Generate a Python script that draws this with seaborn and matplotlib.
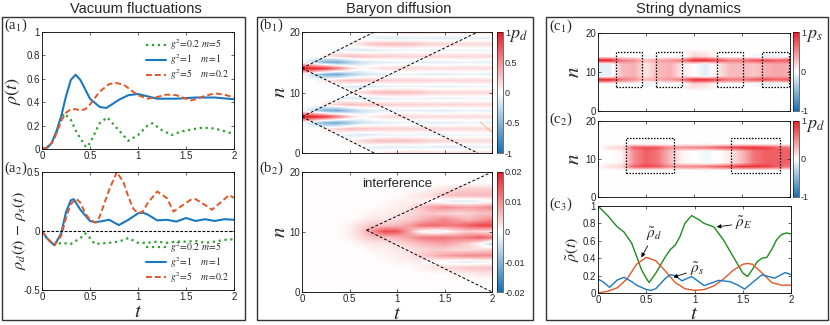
import matplotlib
matplotlib.use("Agg")
import matplotlib.pyplot as plt
import numpy as np
import seaborn as sns
from matplotlib.colors import LinearSegmentedColormap
from matplotlib.patches import Rectangle

# Style: seaborn ticks, then MATLAB-like boxed axes
sns.set_theme(style="ticks")
plt.rcParams["font.family"] = ["Liberation Sans", "DejaVu Sans"]
plt.rcParams["mathtext.fontset"] = "stix"
plt.rcParams["xtick.direction"] = "in"
plt.rcParams["ytick.direction"] = "in"
plt.rcParams["xtick.top"] = True
plt.rcParams["ytick.right"] = True
plt.rcParams["xtick.major.size"] = 2.5
plt.rcParams["ytick.major.size"] = 2.5
plt.rcParams["xtick.major.width"] = 0.5
plt.rcParams["ytick.major.width"] = 0.5
plt.rcParams["axes.linewidth"] = 0.6
plt.rcParams["axes.edgecolor"] = "black"
plt.rcParams["xtick.labelsize"] = 7
plt.rcParams["ytick.labelsize"] = 7

# ---------------- data: vacuum fluctuations (a1) ----------------
a1_t_green = [0, 0.05, 0.1, 0.15, 0.2, 0.23, 0.3, 0.35, 0.4, 0.46, 0.5, 0.6, 0.68, 0.8, 0.9,
              1.0, 1.1, 1.15, 1.25, 1.35, 1.45, 1.55, 1.65, 1.75, 1.85, 1.95, 2.0]
a1_green = [0, 0.01, 0.05, 0.13, 0.27, 0.305, 0.25, 0.16, 0.09, 0.015, 0.05, 0.22, 0.27, 0.16, 0.07,
            0.12, 0.2, 0.22, 0.16, 0.12, 0.15, 0.165, 0.18, 0.18, 0.165, 0.14, 0.135]
a1_t_blue = [0, 0.05, 0.1, 0.15, 0.2, 0.25, 0.3, 0.35, 0.4, 0.5, 0.6, 0.67, 0.8, 0.9, 1.0,
             1.1, 1.2, 1.4, 1.6, 1.8, 2.0]
a1_blue = [0, 0.01, 0.05, 0.15, 0.28, 0.45, 0.59, 0.635, 0.59, 0.43, 0.36, 0.35, 0.42, 0.46, 0.47,
           0.45, 0.43, 0.43, 0.44, 0.44, 0.425]
a1_t_orange = [0, 0.05, 0.1, 0.15, 0.2, 0.25, 0.3, 0.35, 0.4, 0.45, 0.5, 0.6, 0.7, 0.77, 0.85, 0.9,
               1.0, 1.1, 1.2, 1.3, 1.4, 1.5, 1.55, 1.6, 1.7, 1.8, 1.9, 2.0]
a1_orange = [0, 0.01, 0.05, 0.13, 0.24, 0.31, 0.34, 0.34, 0.33, 0.34, 0.38, 0.49, 0.555, 0.565, 0.55, 0.52,
             0.46, 0.43, 0.445, 0.465, 0.46, 0.43, 0.415, 0.425, 0.455, 0.475, 0.465, 0.44]

# ---------------- data: rho_d - rho_s (a2) ----------------
a2_t_green = [0, 0.05, 0.1, 0.13, 0.2, 0.3, 0.4, 0.45, 0.5, 0.55, 0.7, 0.8, 0.9, 1.0, 1.1, 1.2,
              1.3, 1.4, 1.5, 1.6, 1.7, 1.8, 1.9, 2.0]
a2_green = [0, -0.06, -0.1, -0.12, -0.1, -0.11, -0.06, -0.02, -0.06, -0.11, -0.1, -0.09, -0.06, -0.1,
            -0.1, -0.09, -0.1, -0.09, -0.09, -0.085, -0.1, -0.09, -0.075, -0.07]
a2_t_blue = [0, 0.05, 0.1, 0.13, 0.2, 0.25, 0.3, 0.33, 0.4, 0.5, 0.55, 0.6, 0.7, 0.8, 0.9, 1.0,
             1.05, 1.1, 1.2, 1.3, 1.4, 1.5, 1.6, 1.7, 1.8, 1.9, 2.0]
a2_blue = [0, -0.06, -0.1, -0.12, -0.02, 0.16, 0.26, 0.27, 0.18, 0.085, 0.075, 0.08, 0.095, 0.05, 0.095,
           0.15, 0.155, 0.14, 0.09, 0.095, 0.08, 0.11, 0.085, 0.1, 0.085, 0.1, 0.095]
a2_t_orange = [0, 0.05, 0.1, 0.13, 0.2, 0.25, 0.3, 0.36, 0.4, 0.45, 0.5, 0.56, 0.6, 0.7, 0.78, 0.85,
               0.9, 0.95, 1.0, 1.05, 1.1, 1.2, 1.3, 1.37, 1.45, 1.55, 1.6, 1.7, 1.77, 1.85, 1.95, 2.0]
a2_orange = [0, -0.06, -0.1, -0.12, -0.04, 0.11, 0.23, 0.27, 0.24, 0.15, 0.095, 0.07, 0.12, 0.35, 0.5, 0.41,
             0.29, 0.19, 0.15, 0.165, 0.235, 0.335, 0.28, 0.165, 0.21, 0.265, 0.27, 0.22, 0.18, 0.235, 0.305, 0.28]

legend_labels = [r"$g^2\!=\!0.2\ m\!=\!5$", r"$g^2\!=\!1\ \ \ \ m\!=\!1$", r"$g^2\!=\!5\ \ \ \ m\!=\!0.2$"]

# ---------------- data: heatmaps, sampled at t = 0, 0.125, ..., 2 ----------------
t_cols = np.linspace(0, 2, 17)
n_rows = np.arange(21)

# baryon diffusion p_d, rows grouped by distance from the nearest source (n=6, n=14)
pd_d0 = [1.0, 1.0, 0.9, 0.6, 0.25, 0.02, 0.1, 0.16, 0.18, 0.18, 0.17, 0.16, 0.16, 0.16, 0.16, 0.16, 0.16]
pd_d1 = [0.0, -0.25, -0.55, -0.6, -0.4, -0.22, -0.15, -0.12, -0.1, -0.08, -0.1, -0.12, -0.12, -0.1, -0.08, -0.1, -0.12]
pd_d2 = [0.0, 0.0, 0.08, 0.22, 0.3, 0.28, 0.24, 0.22, 0.2, 0.19, 0.19, 0.19, 0.18, 0.18, 0.18, 0.17, 0.17]
pd_d3 = [0, 0, 0, -0.05, -0.12, -0.16, -0.14, -0.1, -0.08, -0.07, -0.08, -0.09, -0.09, -0.08, -0.07, -0.07, -0.07]
pd_d4 = [0, 0, 0, 0, 0.04, 0.16, 0.27, 0.3, 0.3, 0.28, 0.24, 0.2, 0.18, 0.17, 0.17, 0.17, 0.17]
pd_d5 = [0, 0, 0, 0, 0, -0.04, -0.1, -0.14, -0.14, -0.12, -0.1, -0.12, -0.14, -0.12, -0.1, -0.1, -0.1]
pd_d6 = [0, 0, 0, 0, 0, 0, 0.04, 0.12, 0.17, 0.18, 0.17, 0.16, 0.15, 0.15, 0.15, 0.15, 0.15]
b1_row_dist = [6, 5, 4, 3, 2, 1, 0, 1, 2, 3, 4, 3, 2, 1, 0, 1, 2, 3, 4, 5, 6]
b1_cone_t = [[0, 0.76], [0, 1.85], [0, 1.85], [0, 0.76]]
b1_cone_n = [[14, 20], [14, 0], [6, 20], [6, 0]]
b1_stray_t = [1.88, 2.05]
b1_stray_n = [5.1, 2.7]

# interference, only rows that differ from the faint background
b2_bg = 0.0002
b2_rows = {
    3:  [0, 0, 0, 0, 0, 0, 0, 0, 0, 0, 0, 0, 0, 0.001, 0.001, 0.002, 0.002],
    4:  [0, 0, 0, 0, 0, 0, 0, 0, 0, 0, 0.001, 0.002, 0.003, 0.004, 0.005, 0.005, 0.005],
    5:  [0, 0, 0, 0, 0, 0, 0, 0, 0.001, 0.001, 0.001, 0, -0.001, -0.002, -0.003, -0.002, -0.002],
    6:  [0, 0, 0, 0, 0, 0, 0, 0.001, 0.001, 0.002, 0.004, 0.006, 0.008, 0.009, 0.01, 0.01, 0.01],
    7:  [0, 0, 0, 0, 0, 0, 0.001, 0.001, 0.002, 0.002, 0.003, 0.004, 0.004, 0.003, 0.003, 0.003, 0.004],
    8:  [0, 0, 0, 0, 0, 0.001, 0.002, 0.002, 0.003, 0.004, 0.006, 0.007, 0.008, 0.006, 0.004, 0.0, -0.006],
    9:  [0, 0, 0, 0, 0.001, 0.003, 0.005, 0.005, 0.006, 0.008, 0.011, 0.012, 0.012, 0.011, 0.012, 0.014, 0.012],
    10: [0, 0, 0, 0, 0.001, 0.004, 0.01, 0.016, 0.015, 0.008, 0.0, -0.002, -0.001, 0.002, 0.004, 0.003, 0.002],
    11: [0, 0, 0, 0, 0.001, 0.003, 0.005, 0.005, 0.006, 0.008, 0.012, 0.013, 0.012, 0.012, 0.014, 0.016, 0.016],
    12: [0, 0, 0, 0, 0, 0.001, 0.002, 0.002, 0.003, 0.004, 0.006, 0.008, 0.01, 0.008, 0.006, 0.008, 0.01],
    13: [0, 0, 0, 0, 0, 0, 0.001, 0.001, 0.002, 0.003, 0.004, 0.005, 0.004, 0.003, 0.004, 0.005, 0.005],
    14: [0, 0, 0, 0, 0, 0, 0, 0.001, 0.001, 0.002, 0.005, 0.008, 0.01, 0.009, 0.008, 0.009, 0.01],
    15: [0, 0, 0, 0, 0, 0, 0, 0, 0.001, 0.001, 0.001, 0, -0.002, -0.003, -0.003, -0.002, -0.001],
    16: [0, 0, 0, 0, 0, 0, 0, 0, 0, 0.001, 0.002, 0.003, 0.005, 0.006, 0.006, 0.006, 0.006],
    17: [0, 0, 0, 0, 0, 0, 0, 0, 0, 0, 0, 0.001, 0.002, 0.003, 0.004, 0.004, 0.004],
}
b2_cone_t = [[0.68, 2.0], [0.68, 2.0]]
b2_cone_n = [[10.3, 20], [10.3, 0]]

# string dynamics p_s (c1) and p_d (c2)
ps_edge = [1.0, 1.0, 0.6, 0.5, 0.3, 0.4, 0.45, 0.6, 0.95, 0.95, 0.8, 0.6, 0.6, 0.75, 0.8, 0.7, 0.75]
ps_mid = [-0.1, -0.1, 0.3, 0.35, 0.1, 0.3, 0.35, 0.1, 0.0, -0.12, 0.1, 0.3, 0.3, 0.25, 0.35, 0.4, 0.35]
ps_out1 = [0, 0, 0, 0, -0.1, -0.05, 0, -0.1, 0.2, 0.15, 0, 0, 0, -0.05, -0.15, -0.1, 0]
ps_out2 = [0, 0, 0, 0, 0, 0, 0, 0.05, 0.12, 0.08, 0, 0, 0, 0, 0, 0, 0]
c1_rows = {6: ps_out2, 7: ps_out1, 8: ps_edge, 9: ps_mid, 10: ps_mid, 11: ps_mid, 12: ps_mid,
           13: ps_edge, 14: ps_out1, 15: ps_out2}
c1_box_t = [(0.19, 0.46), (0.6, 0.87), (1.24, 1.51), (1.71, 1.99)]
c1_box_n = (6.1, 15.1)

pdc_edge = [0.0, 0.15, 0.2, 0.7, 0.8, 0.75, 0.5, 0.5, 0.55, 0.6, 0.7, 0.8, 0.9, 0.9, 0.85, 0.7, 0.6]
pdc_mid = [0, 0, 0.05, 0.5, 0.7, 0.6, 0.3, 0.05, 0.0, -0.05, 0.0, 0.1, 0.3, 0.6, 0.7, 0.7, 0.7]
pdc_out = [0, 0, 0, 0, -0.05, -0.05, 0, 0, 0, -0.05, 0, 0, 0, 0, 0, 0, 0]
c2_rows = {7: pdc_out, 8: pdc_edge, 9: pdc_mid, 10: pdc_mid, 11: pdc_mid, 12: pdc_mid,
           13: pdc_edge, 14: pdc_out}
c2_box_t = [(0.29, 0.79), (1.39, 1.9)]
c2_box_n = (6.3, 15.5)

# ---------------- data: string dynamics populations (c3) ----------------
c3_t_E = [0, 0.1, 0.2, 0.27, 0.35, 0.4, 0.45, 0.5, 0.53, 0.6, 0.7, 0.75, 0.8, 0.85, 0.9, 0.97,
          1.05, 1.1, 1.2, 1.3, 1.4, 1.5, 1.55, 1.6, 1.65, 1.7, 1.75, 1.8, 1.85, 1.9, 1.95, 2.0]
c3_E = [1.0, 0.89, 0.76, 0.70, 0.57, 0.42, 0.27, 0.17, 0.12, 0.23, 0.42, 0.5, 0.55, 0.65, 0.8, 0.89,
        0.84, 0.8, 0.76, 0.61, 0.42, 0.23, 0.19, 0.27, 0.36, 0.4, 0.41, 0.5, 0.61, 0.67, 0.69, 0.68]
c3_t_d = [0, 0.1, 0.2, 0.3, 0.4, 0.5, 0.6, 0.7, 0.8, 0.9, 1.0, 1.1, 1.2, 1.3, 1.4, 1.5, 1.55,
          1.6, 1.7, 1.8, 1.9, 2.0]
c3_d = [0, 0.02, 0.06, 0.16, 0.33, 0.41, 0.37, 0.25, 0.12, 0.05, 0.03, 0.04, 0.08, 0.16, 0.26, 0.33, 0.34,
        0.33, 0.23, 0.12, 0.09, 0.09]
c3_t_s = [0, 0.05, 0.12, 0.2, 0.27, 0.35, 0.4, 0.5, 0.55, 0.6, 0.7, 0.75, 0.8, 0.87, 0.97, 1.1,
          1.25, 1.37, 1.45, 1.52, 1.6, 1.7, 1.83, 1.94, 2.0]
c3_s = [0.16, 0.13, 0.065, 0.15, 0.18, 0.13, 0.09, 0.04, 0.03, 0.05, 0.17, 0.21, 0.2, 0.14, 0.19, 0.085,
        0.145, 0.13, 0.09, 0.045, 0.12, 0.21, 0.17, 0.235, 0.21]

# ---------------- colours ----------------
c_green = "#2ea02e"
c_blue = "#1a78c2"
c_orange = "#e0582a"
c_green_dark = "#1e8c1e"
rwb = LinearSegmentedColormap.from_list("rwb", ["#1170b8", "#ffffff", "#ea1c24"])

W, H = 830, 325


def rect(x0, y0, x1, y1):
    return [x0 / W, 1 - y1 / H, (x1 - x0) / W, (y1 - y0) / H]


fig = plt.figure(figsize=(8.3, 3.25), dpi=100)

# panel frames and titles
for (x0, x1), xc, title in zip([(2, 245), (257, 533), (546, 828)], [136, 399, 688],
                               ["Vacuum fluctuations", "Baryon diffusion", "String dynamics"]):
    fig.add_artist(Rectangle((x0 / W, 1 - 320 / H), (x1 - x0) / W, 303 / H, transform=fig.transFigure,
                             fill=False, lw=1.0, ec="#333333"))
    fig.text(xc / W, 1 - 9 / H, title, ha="center", va="center", fontsize=10.5)


def panel_label(x, y, letter, idx):
    fig.text(x / W, 1 - y / H, "(" + letter + r"$_{" + idx + r"}$)", family="Liberation Serif",
             fontsize=10.5, ha="left", va="center")


def draw_lines(ax, series):
    for (t, y, col, ls, lw, lab) in series:
        sns.lineplot(x=t, y=y, ax=ax, color=col, linestyle=ls, lw=lw, label=lab)


def legend(ax, loc):
    ax.legend(loc=loc, frameon=False, fontsize=7, handlelength=2.0, handletextpad=0.4,
              labelspacing=0.0, borderaxespad=0.15)


# ---- a1 ----
ax = fig.add_axes(rect(42, 32, 234, 149))
draw_lines(ax, [(a1_t_green, a1_green, c_green, ":", 1.6, legend_labels[0]),
                (a1_t_blue, a1_blue, c_blue, "-", 1.5, legend_labels[1]),
                (a1_t_orange, a1_orange, c_orange, (0, (3, 1.6)), 1.4, legend_labels[2])])
ax.set_xlim(0, 2)
ax.set_ylim(0, 1)
ax.set_xticks([0, 0.5, 1, 1.5, 2])
ax.set_xticklabels(["0", "0.5", "1", "1.5", "2"])
ax.set_yticks([0, 0.2, 0.4, 0.6, 0.8, 1])
ax.set_yticklabels(["0", "0.2", "0.4", "0.6", "0.8", "1"])
ax.tick_params(pad=1.5)
ax.set_xlabel("")
ax.set_ylabel(r"$\rho(t)$", fontsize=13, labelpad=0)
ax.yaxis.set_label_coords(-0.10, 0.5)
legend(ax, "upper right")
panel_label(4, 25, "a", "1")

# ---- a2 ----
ax = fig.add_axes(rect(42, 172, 234, 290))
draw_lines(ax, [(a2_t_green, a2_green, c_green, ":", 1.6, legend_labels[0]),
                (a2_t_blue, a2_blue, c_blue, "-", 1.5, legend_labels[1]),
                (a2_t_orange, a2_orange, c_orange, (0, (3, 1.6)), 1.4, legend_labels[2])])
ax.axhline(0, color="black", ls=(0, (2.5, 1.5)), lw=0.8)
ax.set_xlim(0, 2)
ax.set_ylim(-0.5, 0.5)
ax.set_xticks([0, 0.5, 1, 1.5, 2])
ax.set_xticklabels(["0", "0.5", "1", "1.5", "2"])
ax.set_yticks([-0.5, 0, 0.5])
ax.set_yticklabels(["-0.5", "0", "0.5"])
ax.tick_params(pad=1.5)
ax.set_xlabel(r"$t$", fontsize=15, labelpad=0)
ax.set_ylabel(r"$\rho_d(t)\,-\,\rho_s(t)$", fontsize=11.5, labelpad=0)
ax.yaxis.set_label_coords(-0.075, 0.5)
legend(ax, "lower right")
panel_label(4, 168, "a", "2")


def heat(ax, M, vmax):
    dt = t_cols[1] - t_cols[0]
    im = ax.imshow(M, origin="lower", aspect="auto", cmap=rwb, vmin=-vmax, vmax=vmax,
                   extent=[-dt / 2, 2 + dt / 2, -0.5, 20.5], interpolation="bilinear")
    ax.set_xlim(0, 2)
    ax.set_ylim(0, 20)
    ax.set_xticks([0, 0.5, 1, 1.5, 2])
    ax.set_yticks([0, 10, 20])
    ax.set_yticklabels(["0", "10", "20"])
    ax.tick_params(pad=1.5)
    return im


def cbar(im, box, ticks, labels, name=None, name_xy=None):
    cax = fig.add_axes(rect(*box))
    cb = fig.colorbar(im, cax=cax)
    cb.set_ticks(ticks)
    cb.set_ticklabels(labels)
    cb.outline.set_linewidth(0.4)
    cax.tick_params(labelsize=6.5, length=0, pad=1.5)
    if name is not None:
        fig.text(name_xy[0] / W, 1 - name_xy[1] / H, name, fontsize=13, ha="left", va="center")


def ylabel_n(ax, x):
    ax.set_ylabel(r"$n$", fontsize=15, labelpad=0)
    ax.yaxis.set_label_coords(x, 0.5)


# ---- b1 ----
b1 = np.array([[pd_d0, pd_d1, pd_d2, pd_d3, pd_d4, pd_d5, pd_d6][d] for d in b1_row_dist])
ax = fig.add_axes(rect(302, 32, 492, 153))
im = heat(ax, b1, 1.0)
ax.set_xticklabels([])
for tt, nn in zip(b1_cone_t, b1_cone_n):
    ax.plot(tt, nn, color="black", ls=(0, (3, 2)), lw=0.7)
ax.plot(b1_stray_t, b1_stray_n, color="#f0a050", lw=0.6, alpha=0.8)
ylabel_n(ax, -0.07)
cbar(im, (497, 32, 503, 153), [-1, -0.5, 0, 0.5, 1], ["-1", "-0.5", "0", "0.5", "1"],
     r"$p_d$", (509, 35))
panel_label(259, 25, "b", "1")

# ---- b2 ----
b2 = np.full((21, 17), b2_bg)
for n, row in b2_rows.items():
    b2[n] += np.array(row)
ax = fig.add_axes(rect(302, 172, 492, 292))
im = heat(ax, b2, 0.02)
ax.set_xticklabels(["0", "0.5", "1", "1.5", "2"])
for tt, nn in zip(b2_cone_t, b2_cone_n):
    ax.plot(tt, nn, color="black", ls=(0, (3, 2)), lw=0.7)
ax.text(0.5, 0.9, "interference", transform=ax.transAxes, ha="center", va="center", fontsize=9.5)
ax.set_xlabel(r"$t$", fontsize=15, labelpad=0)
ylabel_n(ax, -0.07)
cbar(im, (497, 172, 503, 292), [-0.02, -0.01, 0, 0.01, 0.02], ["-0.02", "-0.01", "0", "0.01", "0.02"])
panel_label(259, 168, "b", "2")

# ---- c1 ----
c1 = np.zeros((21, 17))
for n, row in c1_rows.items():
    c1[n] = row
ax = fig.add_axes(rect(598, 33, 790, 111))
im = heat(ax, c1, 1.0)
ax.set_xticklabels([])
for (t0, t1) in c1_box_t:
    ax.add_patch(Rectangle((t0, c1_box_n[0]), t1 - t0, c1_box_n[1] - c1_box_n[0], fill=False,
                           ec="black", lw=0.9, ls=(0, (1.2, 1.2))))
ylabel_n(ax, -0.08)
cbar(im, (793, 32, 799, 111), [-1, 0, 1], ["-1", "0", "1"], r"$p_s$", (806, 35))
panel_label(549, 26, "c", "1")

# ---- c2 ----
c2 = np.zeros((21, 17))
for n, row in c2_rows.items():
    c2[n] = row
ax = fig.add_axes(rect(598, 121, 790, 197))
im = heat(ax, c2, 1.0)
ax.set_xticklabels([])
for (t0, t1) in c2_box_t:
    ax.add_patch(Rectangle((t0, c2_box_n[0]), t1 - t0, c2_box_n[1] - c2_box_n[0], fill=False,
                           ec="black", lw=0.9, ls=(0, (1.2, 1.2))))
ylabel_n(ax, -0.08)
cbar(im, (793, 121, 799, 197), [-1, 0, 1], ["-1", "0", "1"], r"$p_d$", (806, 125))
panel_label(549, 119, "c", "2")

# ---- c3 ----
ax = fig.add_axes(rect(598, 206, 791, 293))
sns.lineplot(x=c3_t_E, y=c3_E, ax=ax, color=c_green_dark, lw=1.0)
sns.lineplot(x=c3_t_d, y=c3_d, ax=ax, color=c_orange, lw=1.0)
sns.lineplot(x=c3_t_s, y=c3_s, ax=ax, color=c_blue, lw=1.0)
ax.set_xlim(0, 2)
ax.set_ylim(0, 1)
ax.set_xticks([0, 0.5, 1, 1.5, 2])
ax.set_xticklabels(["0", "0.5", "1", "1.5", "2"])
ax.set_yticks([0, 0.2, 0.4, 0.6, 0.8, 1])
ax.set_yticklabels(["0", "0.2", "0.4", "0.6", "0.8", "1"])
ax.tick_params(pad=1.5)
ax.set_xlabel(r"$t$", fontsize=15, labelpad=-1)
ax.set_ylabel(r"$\tilde{\rho}(t)$", fontsize=11.5, labelpad=0)
ax.yaxis.set_label_coords(-0.088, 0.5)
arrow = dict(arrowstyle="-|>", color="black", lw=0.6, mutation_scale=6, shrinkA=0, shrinkB=0)
ax.annotate(r"$\tilde{\rho}_E$", xy=(1.23, 0.76), xytext=(1.42, 0.80), fontsize=11,
            va="center", arrowprops=arrow)
ax.annotate(r"$\tilde{\rho}_d$", xy=(0.45, 0.41), xytext=(0.5, 0.58), fontsize=11,
            va="bottom", ha="left", arrowprops=arrow)
ax.annotate(r"$\tilde{\rho}_s$", xy=(0.78, 0.18), xytext=(0.95, 0.27), fontsize=11,
            va="center", arrowprops=arrow)
panel_label(549, 204, "c", "3")

fig.savefig("out.png", dpi=100)
